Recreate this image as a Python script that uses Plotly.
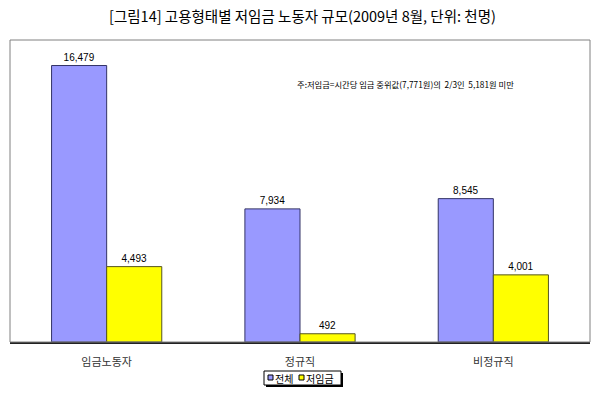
import plotly.graph_objects as go

categories = ["임금노동자", "정규직", "비정규직"]
total = [16479, 7934, 8545]
low_wage = [4493, 492, 4001]
series_names = ["전체", "저임금"]
series_colors = ["#9999FF", "#FFFF00"]
title_text = "[그림14] 고용형태별 저임금 노동자 규모(2009년 8월, 단위: 천명)"
note_text = "주:저임금=시간당 임금 중위값(7,771원)의  2/3인  5,181원 미만"

FONT = "Liberation Sans, Noto Sans CJK KR, sans-serif"
KFONT = "Noto Sans CJK KR, sans-serif"

W, H = 598, 396
ML, MR, MT, MB = 10, 8, 40, 54
PW, PH = W - ML - MR, H - MT - MB


def px_x(p):
    return (p - ML) / PW


def px_y(p):
    return (H - MB - p) / PH


fig = go.Figure()
fig.add_trace(go.Bar(
    x=categories, y=total, name=series_names[0], showlegend=False,
    marker=dict(color=series_colors[0], line=dict(color="#333366", width=1)),
    texttemplate="%{y:,}", textposition="outside",
    textfont=dict(family=FONT, size=10, color="#000000"),
    cliponaxis=False, hoverinfo="skip",
))
fig.add_trace(go.Bar(
    x=categories, y=low_wage, name=series_names[1], showlegend=False,
    marker=dict(color=series_colors[1], line=dict(color="#555522", width=1)),
    texttemplate="%{y:,}", textposition="outside",
    textfont=dict(family=FONT, size=10, color="#000000"),
    cliponaxis=False, hoverinfo="skip",
))

fig.update_layout(
    width=W, height=H,
    margin=dict(l=ML, r=MR, t=MT, b=MB, autoexpand=False),
    paper_bgcolor="white", plot_bgcolor="white",
    barmode="group", bargap=0.43, bargroupgap=0,
    showlegend=False,
)
fig.update_xaxes(
    showgrid=False, showline=True, linecolor="#222222", linewidth=2,
    mirror=False, ticks="", automargin=False, ticklabelstandoff=9,
    tickfont=dict(family=KFONT, size=11, color="#333333"),
)
fig.update_yaxes(
    range=[0, 18000], showgrid=False, showticklabels=False, zeroline=False,
    showline=False, ticks="", automargin=False,
)
# plot-area frame
fig.add_shape(type="rect", xref="paper", yref="paper", x0=0, x1=1, y0=0, y1=1,
              line=dict(color="#808080", width=1), layer="above")
fig.add_annotation(text=title_text, xref="paper", yref="paper", x=0.505, y=1,
                   yshift=25, xanchor="center", yanchor="middle", showarrow=False,
                   font=dict(family=KFONT, size=14.5, color="#000000"))
fig.add_annotation(text=note_text, xref="paper", yref="paper", x=px_x(295), y=px_y(84),
                   xanchor="left", yanchor="middle", showarrow=False,
                   font=dict(family=KFONT, size=8.3, color="#000000"))

# legend box with shadow
lx0, lx1, ly0, ly1 = 264, 341, 371, 385
fig.add_shape(type="rect", xref="paper", yref="paper",
              x0=px_x(lx0 + 2), x1=px_x(lx1 + 2), y0=px_y(ly1 + 2), y1=px_y(ly0 + 2),
              line=dict(width=0), fillcolor="#000000")
fig.add_shape(type="rect", xref="paper", yref="paper",
              x0=px_x(lx0), x1=px_x(lx1), y0=px_y(ly1), y1=px_y(ly0),
              line=dict(color="#000000", width=1), fillcolor="white")
item_x = [268, 299]
for name, color, sx in zip(series_names, series_colors, item_x):
    fig.add_shape(type="rect", xref="paper", yref="paper",
                  x0=px_x(sx), x1=px_x(sx + 5), y0=px_y(380), y1=px_y(375),
                  line=dict(color="#000000", width=1), fillcolor=color)
    fig.add_annotation(text=name, xref="paper", yref="paper", x=px_x(sx + 6), y=px_y(378),
                       xanchor="left", yanchor="middle", showarrow=False, borderpad=0,
                       font=dict(family=KFONT, size=10, color="#000000"))

fig.write_html("out.html",
               config={"displayModeBar": False, "staticPlot": True},
               post_script="document.body.style.margin='0px';document.body.style.overflow='hidden';")
